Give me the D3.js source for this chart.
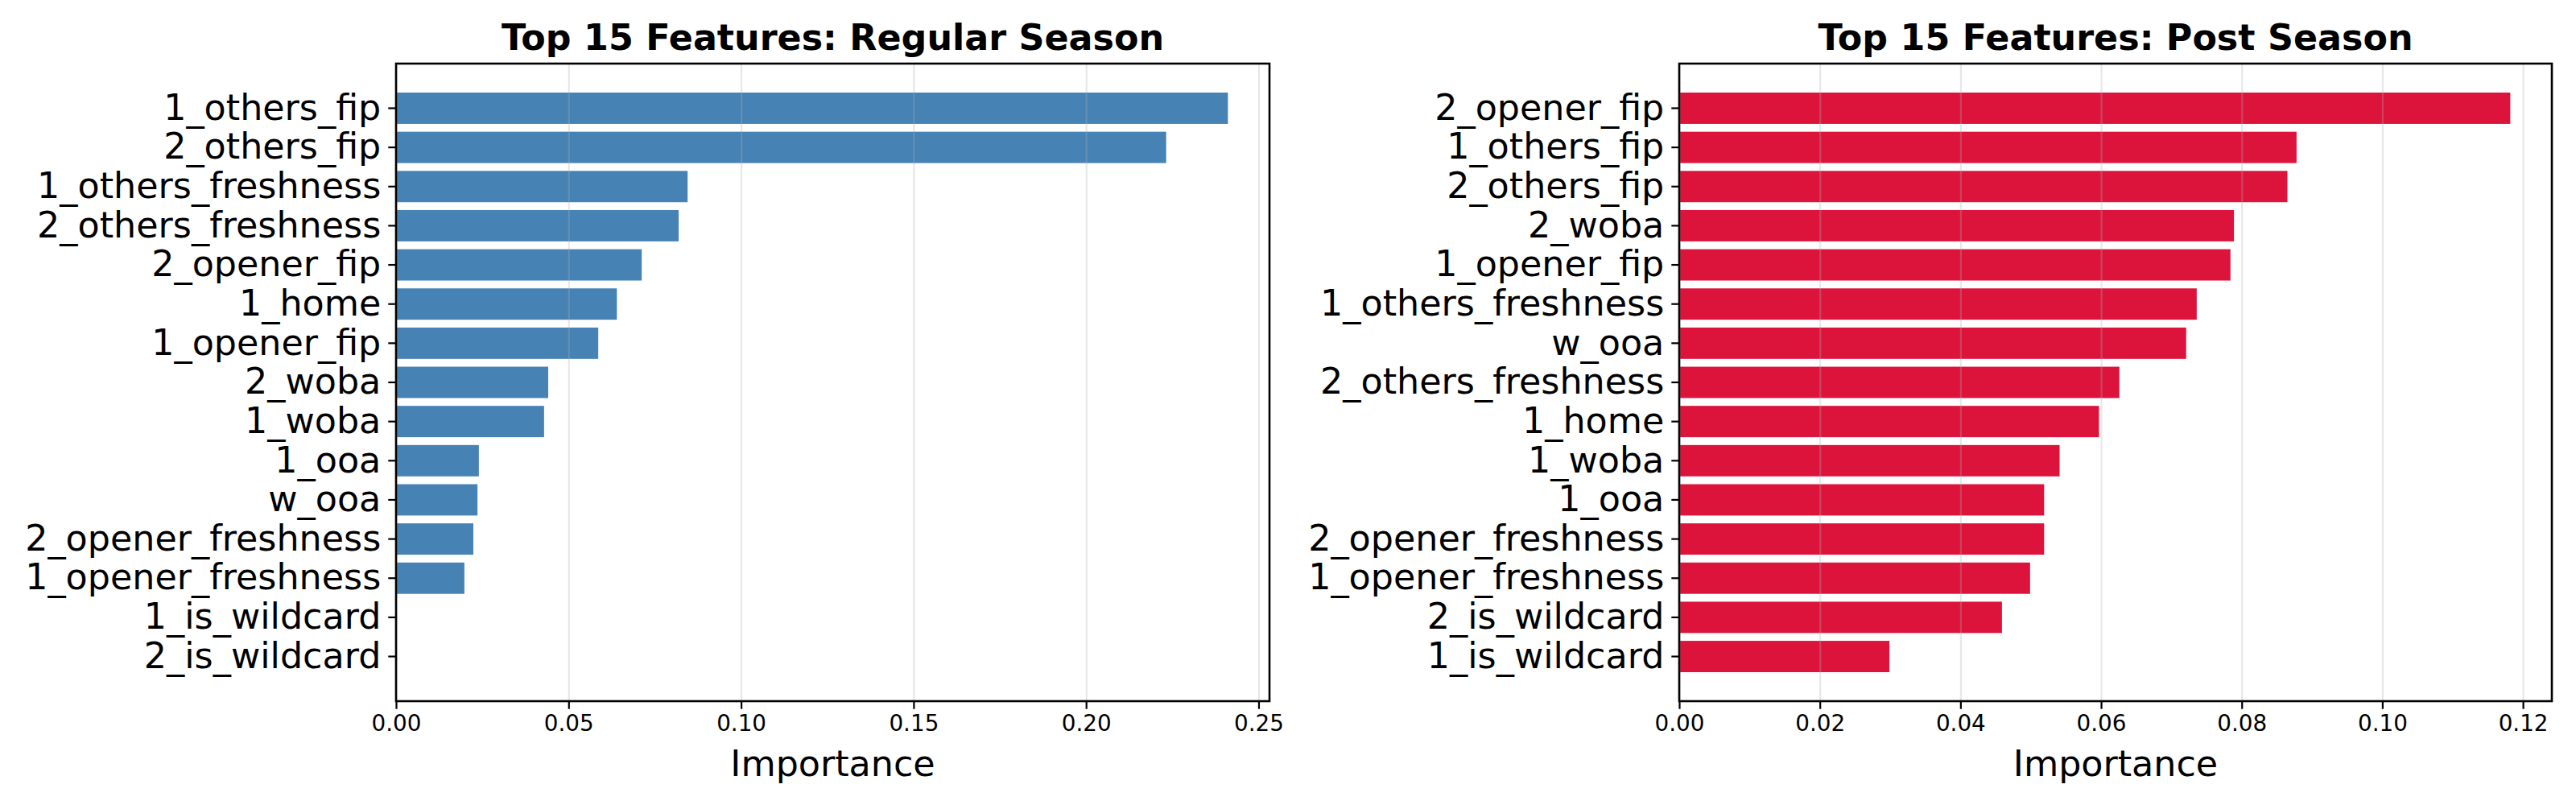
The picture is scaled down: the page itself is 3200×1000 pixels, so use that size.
<!DOCTYPE html>
<html lang="en">
<head>
  <meta charset="utf-8">
  <title>Top 15 Features</title>
  <script src="https://d3js.org/d3.v7.min.js"></script>
  <style>
    body { margin: 0; background: #fff; }
    svg text { font-family: "DejaVu Sans", sans-serif; }
    .axis path, .axis line { stroke: #000; }
    .grid line { stroke: #b0b0b0; stroke-opacity: 0.3; stroke-width: 2.2px; }
    .grid path { display: none; }
  </style>
</head>
<body>
<svg width="3200" height="1000"></svg>
<script>
// regular season, top to bottom
var regFeatures = ["1_others_fip", "2_others_fip", "1_others_freshness", "2_others_freshness",
  "2_opener_fip", "1_home", "1_opener_fip", "2_woba", "1_woba", "1_ooa", "w_ooa",
  "2_opener_freshness", "1_opener_freshness", "1_is_wildcard", "2_is_wildcard"];
var regValues = [0.2411, 0.2232, 0.0845, 0.0819, 0.0712, 0.0640, 0.0586, 0.0441, 0.0429,
  0.0240, 0.0236, 0.0224, 0.0198, 0, 0];
var regTicks = [0, 0.05, 0.10, 0.15, 0.20, 0.25];

// post season, top to bottom
var postFeatures = ["2_opener_fip", "1_others_fip", "2_others_fip", "2_woba", "1_opener_fip",
  "1_others_freshness", "w_ooa", "2_others_freshness", "1_home", "1_woba", "1_ooa",
  "2_opener_freshness", "1_opener_freshness", "2_is_wildcard", "1_is_wildcard"];
var postValues = [0.1182, 0.0878, 0.0865, 0.0789, 0.0784, 0.0736, 0.0721, 0.0626, 0.0597,
  0.0541, 0.0519, 0.0519, 0.0499, 0.0459, 0.0299];
var postTicks = [0, 0.02, 0.04, 0.06, 0.08, 0.10, 0.12];

var svg = d3.select("svg");
var top0 = 79, bottom0 = 871;

function drawPanel(left, right, title, features, values, ticks, color) {
  var g = svg.append("g");

  var x = d3.scaleLinear()
      .domain([0, d3.max(values) * 1.05])
      .range([left, right]);

  var y = d3.scaleBand()
      .domain(features)
      .range([top0, bottom0])
      .paddingInner(0.2)
      .paddingOuter(0.74);

  g.selectAll(".bar")
    .data(features)
    .enter().append("rect")
      .attr("class", "bar")
      .attr("x", x(0))
      .attr("y", function(d) { return y(d); })
      .attr("width", function(d, i) { return x(values[i]) - x(0); })
      .attr("height", y.bandwidth())
      .attr("fill", color);

  // grid over the bars, like the original
  g.append("g")
      .attr("class", "grid")
      .attr("transform", "translate(0," + bottom0 + ")")
      .call(d3.axisBottom(x).tickValues(ticks).tickSize(-(bottom0 - top0)).tickFormat(""));

  var xa = g.append("g")
      .attr("class", "axis")
      .attr("transform", "translate(0," + bottom0 + ")")
      .call(d3.axisBottom(x).tickValues(ticks).tickFormat(d3.format(".2f"))
        .tickSize(9.7).tickPadding(8).tickSizeOuter(0));
  xa.attr("font-family", null);
  xa.select(".domain").remove();
  xa.selectAll("line").attr("stroke-width", 2.2);
  xa.selectAll("text").attr("font-size", "27.8px").attr("fill", "#000");

  var ya = g.append("g")
      .attr("class", "axis")
      .attr("transform", "translate(" + left + ",0)")
      .call(d3.axisLeft(y).tickSize(9.7).tickPadding(9).tickSizeOuter(0));
  ya.attr("font-family", null);
  ya.select(".domain").remove();
  ya.selectAll("line").attr("stroke-width", 2.2);
  ya.selectAll("text").attr("font-size", "44.4px").attr("fill", "#000");

  // frame
  g.append("rect")
      .attr("x", left)
      .attr("y", top0)
      .attr("width", right - left)
      .attr("height", bottom0 - top0)
      .attr("fill", "none")
      .attr("stroke", "#000")
      .attr("stroke-width", 2.6);

  g.append("text")
      .attr("x", (left + right) / 2)
      .attr("y", 62)
      .attr("text-anchor", "middle")
      .attr("font-size", "44.4px")
      .attr("font-weight", "bold")
      .text(title);

  g.append("text")
      .attr("x", (left + right) / 2)
      .attr("y", 964)
      .attr("text-anchor", "middle")
      .attr("font-size", "44.4px")
      .text("Importance");
}

drawPanel(492, 1577, "Top 15 Features: Regular Season", regFeatures, regValues, regTicks, "steelblue");
drawPanel(2086, 3170, "Top 15 Features: Post Season", postFeatures, postValues, postTicks, "crimson");
</script>
</body>
</html>
